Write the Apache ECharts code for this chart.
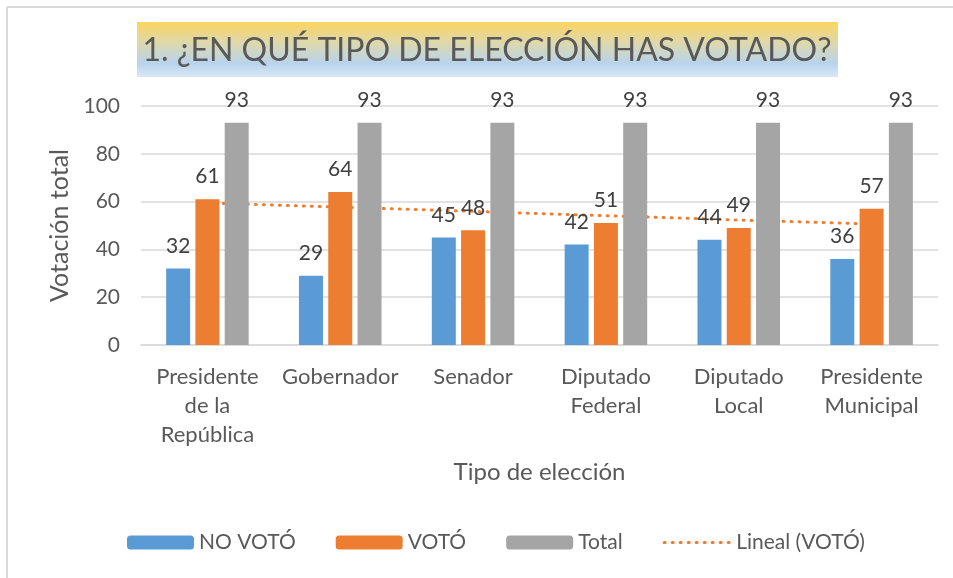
<!DOCTYPE html>
<html>
<head>
<meta charset="utf-8">
<script src="https://cdn.jsdelivr.net/npm/echarts@6/dist/echarts.min.js"></script>
<style>
  html, body { margin: 0; padding: 0; background: #fff; }
  #chart { width: 953px; height: 578px; }
</style>
</head>
<body>
<div id="chart"></div>
<script>
const categories = ['Presidente\nde la\nRepública', 'Gobernador', 'Senador', 'Diputado\nFederal', 'Diputado\nLocal', 'Presidente\nMunicipal']
const noVoto = [32, 29, 45, 42, 44, 36]
const voto = [61, 64, 48, 51, 49, 57]
const total = [93, 93, 93, 93, 93, 93]
// línea de tendencia
const lineal = [59.4, 57.7, 55.9, 54.1, 52.3, 50.6]
const yTicks = [0, 20, 40, 60, 80, 100]

const font = 'Lato, "Open Sans", sans-serif'
const txt = '#595959'

const myChart = echarts.init(document.getElementById('chart'), null, { renderer: 'canvas' })

const barLabel = { show: true, position: 'top', distance: 12, color: '#404040', fontSize: 21, fontFamily: font }
const dotted = { color: '#ed7d31', width: 3, type: [1, 7], cap: 'round' }

const option = {
  animation: false,
  graphic: [
    // marco
    { type: 'line', shape: { x1: 7, y1: 7, x2: 953, y2: 7 }, style: { stroke: '#d9d9d9', lineWidth: 2 } },
    { type: 'line', shape: { x1: 7, y1: 7, x2: 7, y2: 578 }, style: { stroke: '#d9d9d9', lineWidth: 2 } },
    // caja del título con degradado
    {
      type: 'rect', shape: { x: 137, y: 22, width: 701, height: 55 },
      style: {
        fill: new echarts.graphic.LinearGradient(0, 0, 0, 1, [
          { offset: 0, color: '#fbd55f' },
          { offset: 0.4, color: '#dcd8b0' },
          { offset: 0.75, color: '#b9d3ec' },
          { offset: 1, color: '#d9e8f6' }
        ])
      }
    },
    {
      type: 'text', x: 487, y: 51,
      style: { text: '1. ¿EN QUÉ TIPO DE ELECCIÓN HAS VOTADO?', fill: txt, font: '32px ' + font, align: 'center', verticalAlign: 'middle' }
    }
  ],
  grid: { left: 141, right: 15, top: 106, bottom: 233 },
  legend: {
    bottom: 20,
    left: 122,
    itemWidth: 67,
    itemHeight: 14,
    itemGap: 40,
    textStyle: { color: txt, fontSize: 21, fontFamily: font },
    data: ['NO VOTÓ', 'VOTÓ', 'Total', { name: 'Lineal (VOTÓ)', itemStyle: { opacity: 0 }, lineStyle: dotted }]
  },
  xAxis: {
    type: 'category',
    data: categories,
    name: 'Tipo de elección',
    nameLocation: 'middle',
    nameGap: 115,
    nameTextStyle: { color: txt, fontSize: 24, fontFamily: font },
    axisLine: { lineStyle: { color: '#d9d9d9', width: 1.5 } },
    axisTick: { show: false },
    axisLabel: { color: txt, fontSize: 22, fontFamily: font, lineHeight: 29, margin: 17, interval: 0 }
  },
  yAxis: {
    type: 'value',
    min: yTicks[0],
    max: yTicks[yTicks.length - 1],
    interval: 20,
    name: 'Votación total',
    nameLocation: 'middle',
    nameGap: 68,
    nameTextStyle: { color: txt, fontSize: 25, fontFamily: font },
    axisLine: { show: false },
    axisTick: { show: false },
    axisLabel: { color: txt, fontSize: 21, fontFamily: font, margin: 21 },
    splitLine: { lineStyle: { color: '#d9d9d9', width: 1.5 } }
  },
  series: [
    {
      name: 'Lineal (VOTÓ)', type: 'line', data: lineal, z: 1,
      symbol: 'none', silent: true,
      itemStyle: { color: '#ed7d31' },
      lineStyle: dotted
    },
    { name: 'NO VOTÓ', type: 'bar', data: noVoto, z: 2, barWidth: 24, barGap: '22%', itemStyle: { color: '#5b9bd5' }, label: barLabel },
    { name: 'VOTÓ', type: 'bar', data: voto, z: 2, barWidth: 24, barGap: '22%', itemStyle: { color: '#ed7d31' }, label: barLabel },
    { name: 'Total', type: 'bar', data: total, z: 2, barWidth: 24, barGap: '22%', itemStyle: { color: '#a5a5a5' }, label: barLabel }
  ]
}

myChart.setOption(option)
</script>
</body>
</html>
